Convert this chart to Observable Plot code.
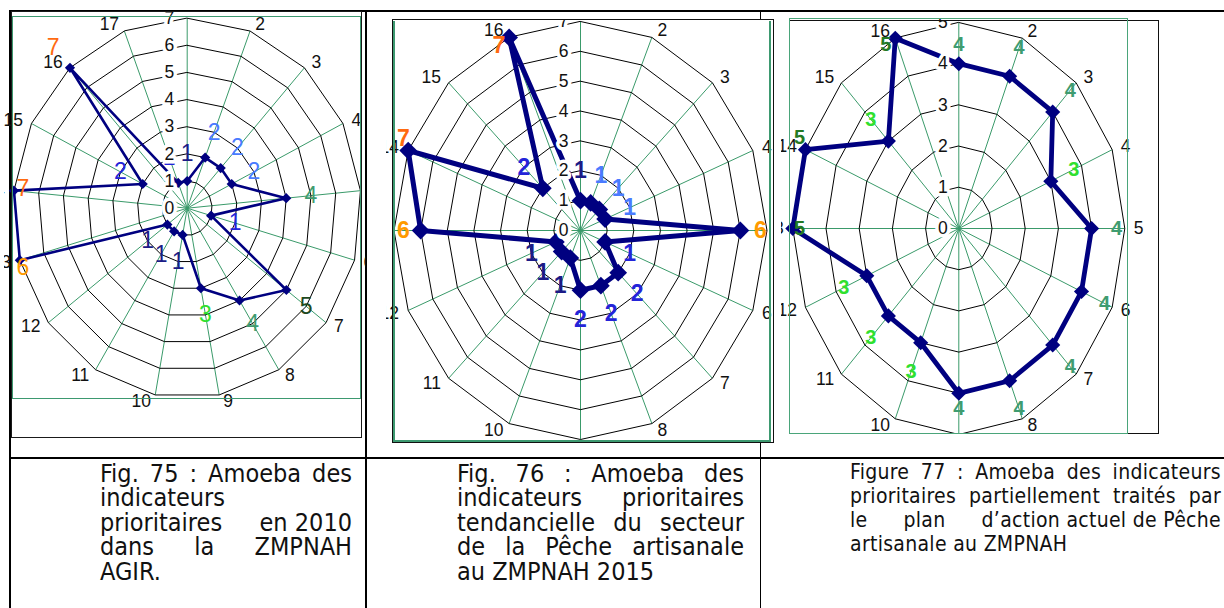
<!DOCTYPE html>
<html><head><meta charset="utf-8">
<script src="https://cdn.jsdelivr.net/npm/d3@7"></script>
<script src="https://cdn.jsdelivr.net/npm/@observablehq/plot@0.6"></script>
<style>
html,body{margin:0;padding:0;background:#fff;}
#page{position:relative;width:1224px;height:608px;overflow:hidden;background:#fff;}
.ln{position:absolute;background:#000;}
.clip{position:absolute;overflow:hidden;}
.clip svg{position:absolute;max-width:none !important;width:1224px !important;height:460px !important;}
.frame{position:absolute;box-sizing:border-box;pointer-events:none;}
.cap{position:absolute;font-family:"DejaVu Sans Condensed","DejaVu Sans",sans-serif;font-stretch:condensed;color:#111;}
.cap .j{text-align:justify;text-align-last:justify;}
.cap .l{text-align:left;}
.cap .ib{display:inline-block;}
</style></head>
<body><div id="page"></div>
<script>
// ---------- data ----------
const axes1 = ["1","2","3","4","5","6","7","8","9","10","11","12","13","14","15","16","17"];
const values1 = [1,2,2,2,4,1,5,4,3,1,1,1,7,7,2,7,1];
const labels1 = ["1","2","2","2","4","1","5","4","3","1","1","1","6","7","2","7","1"];
const colors1 = ["navy","light","light","light","mid","blue","dark1","mid","bright","navy","navy","navy","orange","red","blue","red","blue"];
const ticks1 = [0,1,2,3,4,5,6,7];
const tickLabels1 = ["0","1","2","3","4","5","6","7"];

const axes2 = ["1","2","3","4","5","6","7","8","9","10","11","12","13","14","15","16"];
const values2 = [1,1,1,1,6,1,2,2,2,1,1,1,6,7,2,7];
const labels2 = ["1","1","1","1","6","1","2","2","2","1","1","1","6","7","2","7"];
const colors2 = ["navy","light","light","light","orange","blue","blue","blue","blue","navy","navy","navy","orange","red","blue","red"];
const ticks2 = [0,1,2,3,4,5,6,7];
const tickLabels2 = ["0","1","2","3","4","5","6","7"];

const axes3 = ["1","2","3","4","5","6","7","8","9","10","11","12","13","14","15","16"];
const values3 = [4,4,4,3,4,4,4,4,4,3,3,3,5,5,3,5];
const labels3 = ["4","4","4","3","4","4","4","4","4","3","3","3","5","5","3","5"];
const colors3 = ["mid","mid","mid","bright","mid","mid","mid","mid","mid","bright","bright","bright","dark","dark","bright","dark"];
const ticks3 = [0,1,2,3,4,5];
const tickLabels3 = ["0","1","2","3","4","5"];

const caption1 = [["j","Fig. 75 : Amoeba des"],["l","indicateurs"],["j","prioritaires en~2010"],["j","dans la ZMPNAH"],["l","AGIR."]];
const caption2 = [["j","Fig. 76 : Amoeba des"],["j","indicateurs prioritaires"],["j","tendancielle du secteur"],["j","de la Pêche artisanale"],["l","au ZMPNAH 2015"]];
const caption3 = [["j","Figure 77 : Amoeba des indicateurs"],["j","prioritaires partiellement traités par"],["j","le plan d’action~actuel~de~Pêche"],["l","artisanale au ZMPNAH"]];

// ---------- styles ----------
const colorMap = {navy:"#1b1b86", light:"#4a7bff", blue:"#2424d8", mid:"#3f9c70", dark1:"#1f4a1f", dark:"#247a24", bright:"#2fe02f", orange:"#ff9a00", red:"#ff6a10"};
const SPOKE = "#3a9a6a", LINE = "#000080";
const page = document.getElementById("page");

function div(cls, css, parent = page) {
  const d = document.createElement("div");
  d.className = cls; Object.assign(d.style, css); parent.appendChild(d); return d;
}
// table lines
div("ln", {left:"9px", top:"10px", width:"1215px", height:"2px"});
div("ln", {left:"9px", top:"10px", width:"2px", height:"598px"});
div("ln", {left:"365px", top:"10px", width:"1.6px", height:"598px"});
div("ln", {left:"759.5px", top:"10px", width:"1.5px", height:"598px"});
div("ln", {left:"9px", top:"457px", width:"1215px", height:"2px"});

function radar(cfg) {
  const n = cfg.axes.length, M = cfg.max;
  const kx = cfg.rx / M, ky = cfg.ry / M;
  const dir = cfg.axes.map((name, i) => ({name, s: Math.sin(2 * Math.PI * i / n), c: Math.cos(2 * Math.PI * i / n)}));
  const spokes = dir.map(d => ({x: M * d.s, y: M * d.c}));
  const rings = cfg.ticks.filter(t => t > 0).flatMap(t => dir.map(d => ({ring: t, x: t * d.s, y: t * d.c})));
  const pts = cfg.values.map((v, i) => ({x: v * dir[i].s, y: v * dir[i].c}));
  const xmin = (cfg.frame[0] + 10 - cfg.cx) / kx, xmax = (cfg.frame[2] - 10 - cfg.cx) / kx;
  const ymax = (cfg.cy - cfg.frame[1] - 25) / ky, ymin = -(cfg.frame[3] - 25 - cfg.cy) / ky;
  const ann = cfg.values.map((v, i) => {
    const r = v + cfg.pad;
    return {x: Math.max(xmin, Math.min(xmax, r * dir[i].s)), y: Math.max(ymin, Math.min(ymax, r * dir[i].c)),
            text: cfg.labels[i], fill: colorMap[cfg.colors[i]]};
  });
  const R = M + cfg.labelPad;
  const cats = dir.filter(d => Math.abs(d.s) >= 0.1).map(d => ({x: R * d.s, y: R * d.c, text: d.name, right: d.s > 0}));
  const tickRows = cfg.ticks.map((t, j) => ({y: t, text: cfg.tickLabels[j]}));
  const font = "Liberation Sans, Arial, sans-serif";
  const fs = 17.5;
  const svg = Plot.plot({
    width: 1224, height: 460, margin: 0,
    x: {domain: [-M, M], range: [cfg.cx - cfg.rx, cfg.cx + cfg.rx], axis: null},
    y: {domain: [-M, M], range: [cfg.cy + cfg.ry, cfg.cy - cfg.ry], axis: null},
    style: {background: "transparent", fontFamily: font},
    marks: [
      Plot.link(spokes, {x1: 0, y1: 0, x2: "x", y2: "y", stroke: SPOKE, strokeWidth: 1}),
      Plot.line(rings, {x: "x", y: "y", z: "ring", curve: "linear-closed", stroke: "#000", strokeWidth: 1}),
      Plot.text(cats.filter(d => d.right), {x: "x", y: "y", text: "text", textAnchor: "start", dx: 3, fontSize: fs, fill: "#111"}),
      Plot.text(cats.filter(d => !d.right), {x: "x", y: "y", text: "text", textAnchor: "end", dx: -3, fontSize: fs, fill: "#111"}),
      Plot.line(pts, {x: "x", y: "y", curve: "linear-closed", stroke: LINE, strokeWidth: cfg.lw, strokeLinejoin: "round"}),
      Plot.dot(pts, {x: "x", y: "y", symbol: "diamond2", fill: LINE, stroke: "none", r: cfg.dotR}),
      Plot.text(ann, {x: "x", y: "y", text: "text", fill: "fill", fontSize: cfg.annSize, fontWeight: cfg.annWeight, fontFamily: font}),
      Plot.text(tickRows, {x: 0, y: "y", text: "text", textAnchor: "end", dx: cfg.tickDx, fontSize: fs, fill: "#111",
                           stroke: "white", strokeWidth: 7, strokeLinejoin: "round", paintOrder: "stroke"})
    ]
  });
  const c = cfg.clip;
  const holder = div("clip", {left: c[0] + "px", top: c[1] + "px", width: (c[2] - c[0]) + "px", height: (c[3] - c[1]) + "px",
                              background: cfg.bg || "transparent"});
  svg.style.left = (-c[0]) + "px"; svg.style.top = (-c[1]) + "px";
  holder.appendChild(svg);
}

radar({axes: axes1, values: values1, labels: labels1, colors: colors1, ticks: ticks1, tickLabels: tickLabels1,
       max: 7, cx: 186.7, cy: 207.7, rx: 174, ry: 190, frame: [12.5, 16.5, 360, 398], clip: [4, 11, 366, 437],
       pad: 1.0, labelPad: 0.25, lw: 2.6, dotR: 4.6, annSize: 23, annWeight: "normal", tickDx: -13});
radar({axes: axes2, values: values2, labels: labels2, colors: colors2, ticks: ticks2, tickLabels: tickLabels2,
       max: 7, cx: 580, cy: 230, rx: 186.5, ry: 209, frame: [393, 20, 770, 441], clip: [386, 19, 773, 443], bg: "#fff",
       pad: 1.0, labelPad: 0.25, lw: 5, dotR: 8, annSize: 23, annWeight: "bold", tickDx: -12});
radar({axes: axes3, values: values3, labels: labels3, colors: colors3, ticks: ticks3, tickLabels: tickLabels3,
       max: 5, cx: 958.3, cy: 228, rx: 166, ry: 206, frame: [789, 19, 1126, 433], clip: [781, 19, 1159, 434],
       pad: 0.75, labelPad: 0.18, lw: 4.8, dotR: 6.8, annSize: 20, annWeight: "bold", tickDx: -11});

// chart frames
div("frame", {left:"10.5px", top:"10.5px", width:"351px", height:"427px", border:"1.5px solid #1a1a1a"});
div("frame", {left:"12px", top:"16px", width:"349px", height:"383px", border:"1.5px solid #3d9970"});
div("frame", {left:"391.5px", top:"19px", width:"382px", height:"424px", border:"1.5px solid #111"});
div("frame", {left:"393px", top:"20.5px", width:"378px", height:"421px", borderLeft:"2px solid #3d9970", borderRight:"2px solid #3d9970", borderBottom:"2px solid #3d9970"});
div("frame", {left:"788.5px", top:"19.5px", width:"370px", height:"414.5px", border:"1.5px solid #111"});
div("frame", {left:"788.5px", top:"18px", width:"339px", height:"416px", border:"1.5px solid #4aa57a"});

// captions
function caption(lines, css) {
  const box = div("cap", css);
  for (const [kind, txt] of lines) {
    const line = div(kind, {}, box);
    txt.split(" ").forEach((w, k) => {
      if (k) line.appendChild(document.createTextNode(" "));
      if (w.includes("~")) { const s = document.createElement("span"); s.className = "ib"; s.textContent = w.replace(/~/g, " "); line.appendChild(s); }
      else line.appendChild(document.createTextNode(w));
    });
  }
}
caption(caption1, {left:"100px", top:"462px", width:"252px", fontSize:"25px", lineHeight:"24.4px"});
caption(caption2, {left:"457px", top:"462px", width:"287px", fontSize:"25px", lineHeight:"24.4px"});
caption(caption3, {left:"850px", top:"460px", width:"371px", fontSize:"21px", lineHeight:"24px", letterSpacing:"0.3px"});
</script>
</body></html>
